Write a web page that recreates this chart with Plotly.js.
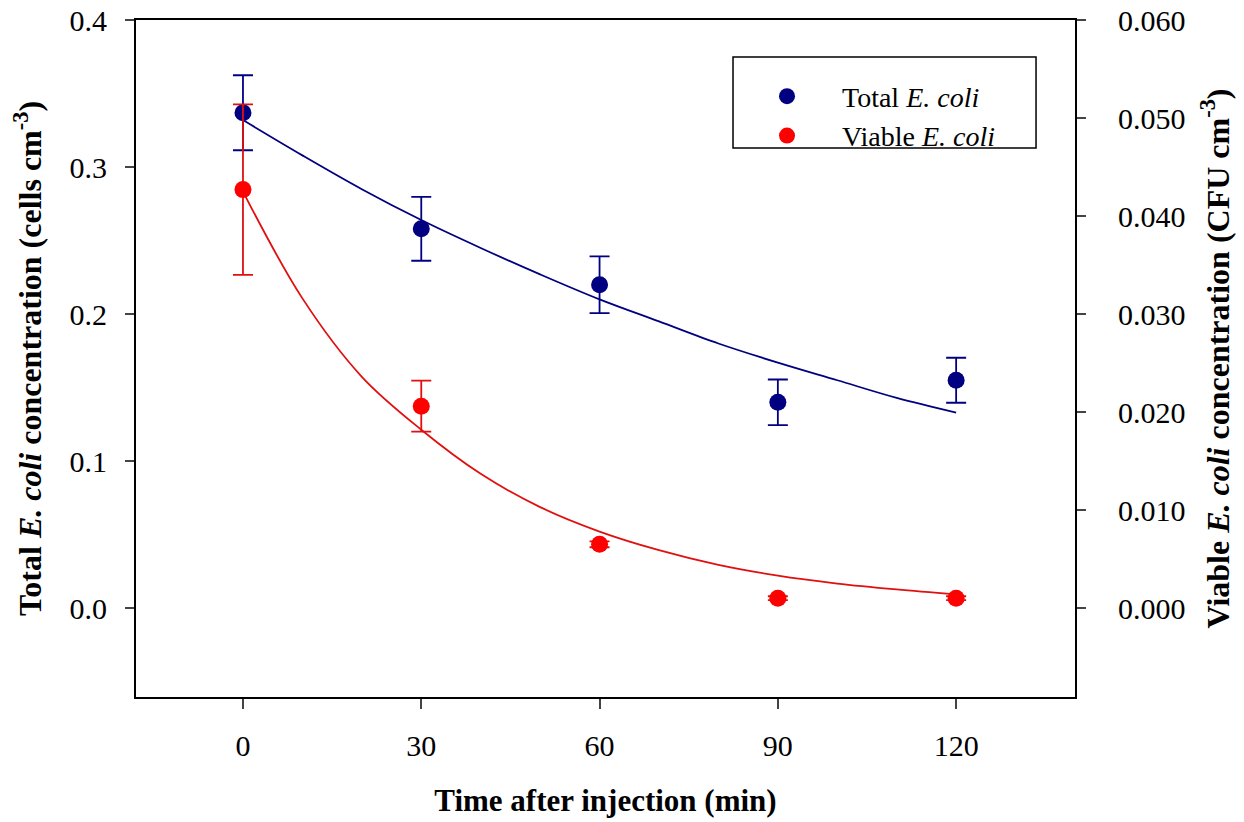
<!DOCTYPE html>
<html>
<head>
<meta charset="utf-8">
<script src="https://cdn.plot.ly/plotly-3.0.1.min.js"></script>
<style>html,body{margin:0;padding:0;background:#fff;}#chart{width:1244px;height:822px;}</style>
</head>
<body>
<div id="chart"></div>
<script>
// ---- data ----
const times = [0, 30, 60, 90, 120];
const totalConc = [0.337, 0.258, 0.220, 0.140, 0.155];
const totalErr = [0.0255, 0.0217, 0.0193, 0.0155, 0.0153];
const viableConc = [0.0427, 0.0206, 0.0065, 0.0010, 0.0010];
const viableErr = [0.0087, 0.0026, 0.0003, 0.0002, 0.0002];
const fitTimes = [0, 10, 20, 30, 40, 50, 60, 70, 80, 90, 100, 110, 120];
const totalFit = [0.332, 0.308, 0.285, 0.264, 0.245, 0.227, 0.210, 0.195, 0.180, 0.167, 0.155, 0.143, 0.133];
const viableFit = [0.0425, 0.0316, 0.0236, 0.0182, 0.0137, 0.0103, 0.0078, 0.0059, 0.0044, 0.0033, 0.0025, 0.0019, 0.0014];
const xTicks = [0, 30, 60, 90, 120];
const yTicks = [0.0, 0.1, 0.2, 0.3, 0.4];
const y2Ticks = [0.000, 0.010, 0.020, 0.030, 0.040, 0.050, 0.060];

const NAVY = '#000080';
const RED = '#ff0000';
const FONT = '"Liberation Serif", "Times New Roman", serif';
const NB = '\u00A0\u00A0\u00A0\u00A0\u00A0';

const traces = [
  {x: fitTimes, y: totalFit, type: 'scatter', mode: 'lines', line: {color: NAVY, width: 1.8, shape: 'spline'}, showlegend: false, hoverinfo: 'skip'},
  {x: fitTimes, y: viableFit, yaxis: 'y2', type: 'scatter', mode: 'lines', line: {color: '#e01010', width: 1.8, shape: 'spline'}, showlegend: false, hoverinfo: 'skip'},
  {x: times, y: totalConc, type: 'scatter', mode: 'markers', name: NB + 'Total <i>E. coli</i>',
   marker: {color: NAVY, size: 17}, error_y: {type: 'data', array: totalErr, visible: true, color: NAVY, thickness: 1.8, width: 10}},
  {x: times, y: viableConc, yaxis: 'y2', type: 'scatter', mode: 'markers', name: NB + 'Viable <i>E. coli</i>',
   marker: {color: RED, size: 17}, error_y: {type: 'data', array: viableErr, visible: true, color: '#e01010', thickness: 1.8, width: 10}}
];

const layout = {
  width: 1244, height: 822,
  margin: {l: 136, r: 169, t: 20, b: 125},
  paper_bgcolor: '#fff', plot_bgcolor: '#fff',
  font: {family: FONT, color: '#000', size: 28},
  showlegend: true,
  legend: {x: 0.672, y: 0.924, xanchor: 'left', yanchor: 'top', bgcolor: 'rgba(0,0,0,0)', borderwidth: 0,
           font: {family: FONT, size: 28, color: '#000'}, tracegroupgap: 0},
  xaxis: {range: [-18, 140], tickvals: xTicks, ticktext: xTicks.map(String), ticks: 'outside', ticklen: 10, tickwidth: 2,
          showline: true, linewidth: 2, linecolor: '#000', mirror: true, showgrid: false, zeroline: false,
          tickfont: {family: FONT, size: 30}, ticklabelstandoff: 11,
          title: {text: '<b>Time after injection (min)</b>', font: {family: FONT, size: 31}, standoff: 28}},
  yaxis: {range: [-0.0605, 0.4001], tickvals: yTicks, ticktext: yTicks.map(v => v.toFixed(1)), ticks: 'outside', ticklen: 9, tickwidth: 2,
          showline: true, linewidth: 2, linecolor: '#000', mirror: true, showgrid: false, zeroline: false,
          tickfont: {family: FONT, size: 30}, ticklabelstandoff: 12,
          title: {text: '<b>Total <i>E. coli</i> concentration (cells cm<sup>-3</sup>)</b>', font: {family: FONT, size: 32}, standoff: 18}},
  yaxis2: {range: [-0.00908, 0.06001], tickvals: y2Ticks, ticktext: y2Ticks.map(v => v.toFixed(3)), overlaying: 'y', side: 'right',
          ticks: 'outside', ticklen: 9, tickwidth: 2, showline: true, linewidth: 2, linecolor: '#000', showgrid: false, zeroline: false,
          tickfont: {family: FONT, size: 30}, ticklabelstandoff: 26,
          title: {text: '<b>Viable <i>E. coli</i> concentration (CFU cm<sup>-3</sup>)</b>', font: {family: FONT, size: 32}, standoff: 22}},
  shapes: [
    {type: 'rect', xref: 'paper', yref: 'paper', x0: 0.6358, x1: 0.9585, y0: 0.811, y1: 0.9453, line: {color: '#000', width: 1.5}, fillcolor: 'rgba(0,0,0,0)'}
  ]
};

Plotly.newPlot('chart', traces, layout, {staticPlot: true, displayModeBar: false});
</script>
</body>
</html>
